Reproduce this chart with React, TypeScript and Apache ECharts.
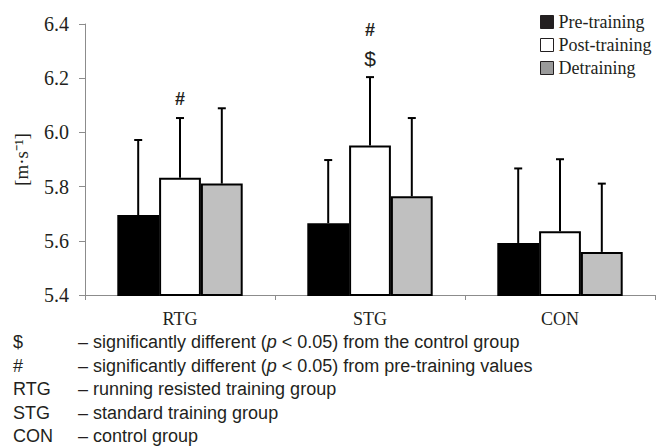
import React, { useEffect, useRef } from "react";
import * as echarts from "echarts";

const categories = ["RTG", "STG", "CON"];
const seriesNames = ["Pre-training", "Post-training", "Detraining"];
const preMean = [5.695, 5.665, 5.592];
const preSD = [0.277, 0.233, 0.275];
const postMean = [5.833, 5.952, 5.635];
const postSD = [0.22, 0.252, 0.266];
const detrMean = [5.811, 5.764, 5.559];
const detrSD = [0.278, 0.289, 0.252];
// significance marks above post-training bars, listed from bottom up
const postMarks = [["#"], ["$", "#"], []];
const yTicks = [5.4, 5.6, 5.8, 6.0, 6.2, 6.4];
const footKeys = ["$", "#", "RTG", "STG", "CON"];
const footTexts = [
  "– significantly different ({i|p} < 0.05) from the control group",
  "– significantly different ({i|p} < 0.05) from pre-training values",
  "– running resisted training group",
  "– standard training group",
  "– control group",
];

const fills = ["#000000", "#ffffff", "#c0c0c0"];
const legendFills = ["#231f20", "#ffffff", "#9a9a9a"];

export default function App() {
  const ref = useRef<HTMLDivElement>(null);
  useEffect(() => {
    document.body.style.margin = "0";
    const chart = echarts.init(ref.current!, null, { renderer: "svg" });
    const means = [preMean, postMean, detrMean];
    const sds = [preSD, postSD, detrSD];
    const errData: number[][] = [];
    means.forEach((m, s) =>
      m.forEach((v, c) => errData.push([c, v, v + sds[s][c], s]))
    );
    const markData: any[] = [];
    postMean.forEach((v, c) => {
      postMarks[c].forEach((mk, k) => markData.push({ value: [c, v + postSD[c], k], mark: mk }));
    });
    const BAR_FRAC = 0.22;
    const serif = "Liberation Serif";
    const sans = "Liberation Sans";
    const option: any = {
      animation: false,
      textStyle: { fontFamily: serif },
      grid: { left: 85, right: 8, top: 24, bottom: 152 },
      legend: {
        orient: "vertical",
        left: 535,
        top: 8,
        itemWidth: 13,
        itemHeight: 13,
        itemGap: 5,
        icon: "rect",
        textStyle: { fontFamily: serif, fontSize: 18, color: "#231f20", lineHeight: 18 },
        data: seriesNames.map((n, i) => ({
          name: n,
          itemStyle: { color: legendFills[i], borderColor: "#231f20", borderWidth: 1 },
        })),
      },
      xAxis: {
        type: "category",
        data: categories,
        axisLine: { lineStyle: { color: "#8c8c8c", width: 1 } },
        axisTick: { show: true, length: 5, lineStyle: { color: "#8c8c8c" } },
        axisLabel: { fontFamily: serif, fontSize: 18, color: "#231f20", margin: 15 },
      },
      yAxis: {
        type: "value",
        min: yTicks[0],
        max: yTicks[yTicks.length - 1],
        interval: 0.2,
        name: "[m·s⁻¹]",
        nameLocation: "middle",
        nameRotate: 90,
        nameGap: 54,
        nameTextStyle: { fontFamily: serif, fontSize: 19, color: "#231f20" },
        axisLine: { show: true, lineStyle: { color: "#8c8c8c", width: 1 } },
        axisTick: { show: true, length: 6, lineStyle: { color: "#8c8c8c" } },
        splitLine: { show: false },
        axisLabel: {
          fontFamily: serif,
          fontSize: 20,
          color: "#231f20",
          margin: 16,
          formatter: (v: number) => "{t|" + v.toFixed(1) + "}",
          rich: { t: { fontFamily: serif, fontSize: 20, color: "#231f20" } },
        },
      },
      series: [
        ...seriesNames.map((n, i) => ({
          name: n,
          type: "bar",
          data: means[i],
          barWidth: BAR_FRAC * 100 + "%",
          barGap: "0%",
          itemStyle: { color: fills[i], borderColor: "#000", borderWidth: 2 },
          z: 2,
        })),
        {
          type: "custom",
          name: "err",
          z: 5,
          silent: true,
          data: errData,
          renderItem: (params: any, api: any) => {
            const c = api.value(0);
            const s = api.value(3);
            const bw = api.size([1, 0])[0] * BAR_FRAC;
            const base = api.coord([c, api.value(1)]);
            const top = api.coord([c, api.value(2)]);
            const x = base[0] + (s - 1) * bw;
            const st = { stroke: "#000", lineWidth: 2 };
            return {
              type: "group",
              children: [
                { type: "line", shape: { x1: x, y1: base[1], x2: x, y2: top[1] }, style: st },
                { type: "line", shape: { x1: x - 4, y1: top[1], x2: x + 4, y2: top[1] }, style: st },
              ],
            };
          },
        },
        {
          type: "custom",
          name: "marks",
          z: 5,
          silent: true,
          data: markData,
          renderItem: (params: any, api: any) => {
            const c = api.value(0);
            const k = api.value(2);
            const p = api.coord([c, api.value(1)]);
            const mk = markData[params.dataIndex].mark;
            return {
              type: "text",
              x: p[0],
              y: p[1] - 19 - k * 28,
              style: {
                text: mk,
                fontFamily: sans,
                fontSize: mk === "$" ? 21 : 18,
                fontWeight: mk === "#" ? "bold" : "normal",
                fill: "#231f20",
                align: "center",
                verticalAlign: "middle",
              },
            };
          },
        },
      ],
      graphic: [
        ...footKeys.map((k, i) => ({
          type: "text",
          left: 13,
          top: 343 + i * 23.5 - 10,
          style: { text: k, fontFamily: sans, fontSize: 18, fill: "#231f20" },
        })),
        ...footTexts.map((t, i) => ({
          type: "text",
          left: 78,
          top: 343 + i * 23.5 - 10,
          style: {
            text: t,
            fontFamily: sans,
            fontSize: 18,
            fill: "#231f20",
            rich: { i: { fontStyle: "italic", fontFamily: sans, fontSize: 18, fill: "#231f20" } },
          },
        })),
      ],
    };
    chart.setOption(option);
    return () => chart.dispose();
  }, []);
  return <div ref={ref} style={{ width: 663, height: 447 }} />;
}
